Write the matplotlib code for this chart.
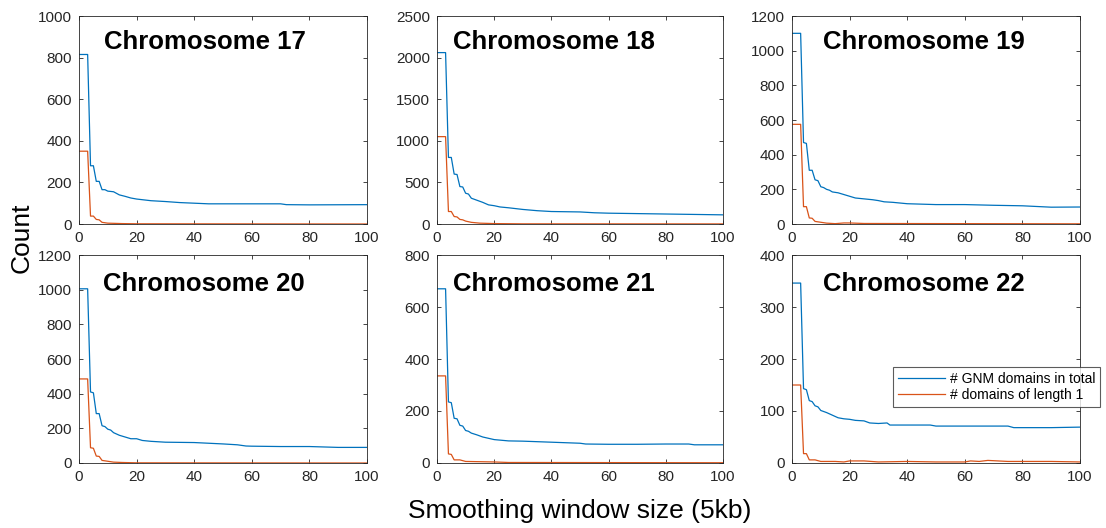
import matplotlib
matplotlib.use("Agg")
import matplotlib.pyplot as plt

plt.rcParams['font.family'] = ['Liberation Sans', 'DejaVu Sans']

titles = ["Chromosome 17", "Chromosome 18", "Chromosome 19",
          "Chromosome 20", "Chromosome 21", "Chromosome 22"]
ylims = [1000, 2500, 1200, 1200, 800, 400]
ysteps = [200, 500, 200, 200, 200, 100]

# Chromosome 17
x17_total = [0, 3, 4, 5, 6, 7, 8, 9, 10, 12, 14, 16, 18, 20, 25, 30, 35, 40, 45, 60, 70, 72, 80, 100]
y17_total = [815, 815, 280, 280, 205, 205, 165, 165, 158, 155, 140, 133, 125, 120, 112, 108, 103, 100, 97, 97, 97, 93, 92, 93]
x17_single = [0, 3, 4, 5, 6, 7, 8, 10, 15, 20, 100]
y17_single = [350, 350, 38, 38, 22, 20, 8, 4, 2, 1, 0]

# Chromosome 18
x18_total = [0, 3, 4, 5, 6, 7, 8, 9, 10, 11, 12, 14, 16, 18, 20, 22, 25, 30, 35, 40, 50, 55, 60, 70, 80, 90, 100]
y18_total = [2060, 2060, 800, 800, 600, 595, 450, 445, 370, 360, 310, 285, 260, 230, 220, 205, 195, 175, 160, 150, 145, 135, 130, 125, 120, 115, 110]
x18_single = [0, 3, 4, 5, 6, 7, 8, 9, 10, 12, 15, 20, 30, 100]
y18_single = [1050, 1050, 150, 150, 90, 85, 55, 50, 35, 20, 10, 5, 2, 1]

# Chromosome 19
x19_total = [0, 3, 4, 5, 6, 7, 8, 9, 10, 11, 12, 13, 14, 16, 18, 20, 22, 25, 28, 30, 32, 35, 40, 50, 60, 70, 80, 90, 100]
y19_total = [1100, 1100, 470, 465, 310, 310, 255, 250, 215, 210, 200, 195, 185, 180, 170, 160, 150, 145, 140, 135, 128, 125, 117, 112, 112, 108, 105, 97, 98]
x19_single = [0, 3, 4, 5, 6, 7, 8, 10, 12, 15, 18, 20, 25, 100]
y19_single = [575, 575, 100, 100, 35, 33, 15, 10, 5, 2, 6, 6, 3, 1]

# Chromosome 20
x20_total = [0, 3, 4, 5, 6, 7, 8, 9, 10, 11, 12, 14, 16, 18, 20, 22, 25, 30, 40, 50, 55, 58, 60, 70, 80, 90, 100]
y20_total = [1005, 1005, 410, 405, 285, 285, 215, 210, 195, 190, 175, 160, 150, 140, 140, 130, 125, 120, 118, 110, 105, 98, 97, 95, 95, 90, 90]
x20_single = [0, 3, 4, 5, 6, 7, 8, 10, 12, 15, 20, 100]
y20_single = [485, 485, 88, 85, 40, 38, 15, 10, 5, 3, 1, 0]

# Chromosome 21
x21_total = [0, 3, 4, 5, 6, 7, 8, 9, 10, 11, 12, 14, 16, 18, 20, 25, 30, 40, 50, 52, 60, 70, 80, 88, 90, 100]
y21_total = [670, 670, 235, 232, 172, 170, 145, 142, 125, 122, 115, 108, 100, 95, 90, 85, 84, 80, 76, 73, 72, 72, 73, 73, 70, 70]
x21_single = [0, 3, 4, 5, 6, 8, 10, 15, 20, 25, 100]
y21_single = [335, 335, 35, 33, 12, 12, 6, 5, 4, 2, 1]

# Chromosome 22
x22_total = [0, 3, 4, 5, 6, 7, 8, 9, 10, 12, 14, 16, 18, 20, 22, 25, 27, 30, 33, 34, 40, 48, 50, 60, 70, 75, 77, 80, 90, 100]
y22_total = [346, 346, 143, 141, 120, 118, 110, 108, 101, 97, 92, 87, 85, 84, 82, 81, 77, 76, 77, 73, 73, 73, 71, 71, 71, 71, 68, 68, 68, 69]
x22_single = [0, 3, 4, 5, 6, 8, 10, 15, 18, 20, 25, 30, 40, 50, 60, 62, 65, 68, 75, 90, 100]
y22_single = [150, 150, 18, 18, 6, 6, 3, 3, 2, 4, 4, 2, 3, 2, 2, 4, 3, 5, 3, 3, 2]

totals = [(x17_total, y17_total), (x18_total, y18_total), (x19_total, y19_total),
          (x20_total, y20_total), (x21_total, y21_total), (x22_total, y22_total)]
singles = [(x17_single, y17_single), (x18_single, y18_single), (x19_single, y19_single),
           (x20_single, y20_single), (x21_single, y21_single), (x22_single, y22_single)]

legend_labels = ["# GNM domains in total", "# domains of length 1"]
xticks = [0, 20, 40, 60, 80, 100]

blue = "#0072BD"
orange = "#D95319"

W, H = 1106, 528
fig = plt.figure(figsize=(W / 100, H / 100), dpi=100)

cols = [(79, 288), (437, 286), (792, 288)]
rows = [(16, 208), (255, 208)]
title_x = [0.087, 0.056, 0.108, 0.082, 0.056, 0.108]
title_y = [0.875, 0.875, 0.875, 0.86, 0.86, 0.86]

axes = []
for i in range(6):
    r, c = divmod(i, 3)
    left, w = cols[c]
    top, h = rows[r]
    ax = fig.add_axes([left / W, 1 - (top + h) / H, w / W, h / H])
    axes.append(ax)
    xt, yt = totals[i]
    xs, ys = singles[i]
    l1, = ax.plot(xt, yt, color=blue, lw=0.9)
    l2, = ax.plot(xs, ys, color=orange, lw=0.9)
    ax.set_xlim(0, 100)
    ax.set_ylim(0, ylims[i])
    ax.set_xticks(xticks)
    ax.set_yticks(list(range(0, ylims[i] + 1, ysteps[i])))
    ax.tick_params(direction='in', length=3, width=0.6, top=True, right=True,
                   labelsize=11, colors='#262626')
    ax.tick_params(axis='x', pad=5)
    ax.tick_params(axis='y', pad=5)
    for s in ax.spines.values():
        s.set_linewidth(0.6)
        s.set_color('#262626')
    ax.text(title_x[i], title_y[i], titles[i], transform=ax.transAxes,
            fontsize=18.5, fontweight='bold', ha='left', va='center', color='black')
    if i == 5:
        leg = ax.legend([l1, l2], legend_labels, loc='upper left',
                        bbox_to_anchor=(893 / W, 1 - 367 / H),
                        bbox_transform=fig.transFigure, borderaxespad=0,
                        fontsize=10, frameon=True, fancybox=False,
                        handlelength=3.4, handletextpad=0.35, borderpad=0.35,
                        labelspacing=0.15)
        leg.get_frame().set_edgecolor('#333333')
        leg.get_frame().set_linewidth(0.8)

fig.text(22 / W, 1 - 238 / H, "Count", rotation=90, ha='center', va='center', fontsize=19)
fig.text(580 / W, 1 - 511 / H, "Smoothing window size (5kb)", ha='center', va='center', fontsize=19)

fig.savefig("out.png", dpi=100)
